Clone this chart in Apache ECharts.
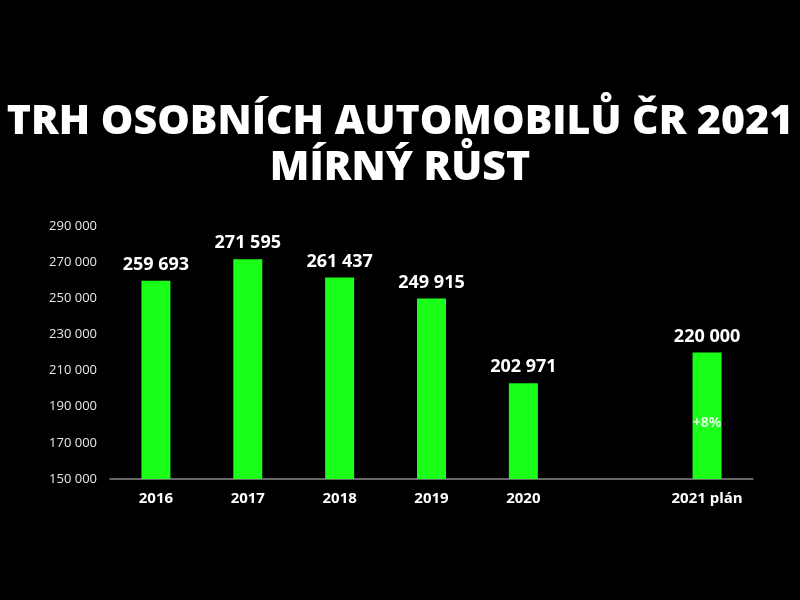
<!DOCTYPE html>
<html><head><meta charset="utf-8">
<script src="https://cdn.jsdelivr.net/npm/echarts@6/dist/echarts.min.js"></script>
<style>html,body{margin:0;padding:0;background:#000;}#c{width:800px;height:600px;}</style>
</head><body><div id="c"></div>
<script>
const titleLines = ['TRH OSOBNÍCH AUTOMOBILŮ ČR 2021', 'MÍRNÝ RŮST'];
const categories = ['2016', '2017', '2018', '2019', '2020', '', '2021 plán'];
const sales = [259693, 271595, 261437, 249915, 202971, null, 220000];
const yTicks = { min: 150000, max: 290000, interval: 20000 };
const growthNote = { category: '2021 plán', value: 181000, text: '+8%' };

const fmt = v => String(Math.round(v)).replace(/\B(?=(\d{3})+(?!\d))/g, ' ');

const chart = echarts.init(document.getElementById('c'));
chart.setOption({
  backgroundColor: '#000',
  title: {
    text: titleLines.join('\n'),
    left: 'center', top: 94,
    textStyle: { color: '#fff', fontFamily: 'Open Sans', fontWeight: 800, fontSize: 41, lineHeight: 46 }
  },
  grid: { left: 110, right: 47, top: 226, bottom: 121 },
  xAxis: {
    type: 'category', data: categories,
    axisLine: { lineStyle: { color: '#888', width: 1.5 } },
    axisTick: { show: false },
    axisLabel: { interval: 0, hideOverlap: false, color: '#fff', fontFamily: 'Open Sans', fontWeight: 'bold', fontSize: 15, margin: 12 }
  },
  yAxis: {
    type: 'value', min: yTicks.min, max: yTicks.max, interval: yTicks.interval,
    splitLine: { show: false },
    axisLine: { show: false }, axisTick: { show: false },
    axisLabel: { color: '#e8e8e8', fontFamily: 'Open Sans', fontSize: 13, margin: 13, formatter: fmt }
  },
  series: [{
    type: 'bar', data: sales, barWidth: 29,
    itemStyle: { color: '#1aff1a' },
    label: { show: true, position: 'top', distance: 7, color: '#fff', fontFamily: 'Open Sans', fontWeight: 'bold', fontSize: 18,
      formatter: p => fmt(p.value) },
    markPoint: {
      symbol: 'circle', symbolSize: 1,
      itemStyle: { color: 'rgba(0,0,0,0)' },
      data: [{ coord: [growthNote.category, growthNote.value] }],
      label: { show: true, position: 'inside', color: 'rgba(255,255,255,0.85)', fontFamily: 'Open Sans', fontWeight: 'bold', fontSize: 14,
        formatter: growthNote.text }
    }
  }]
});
</script></body></html>
